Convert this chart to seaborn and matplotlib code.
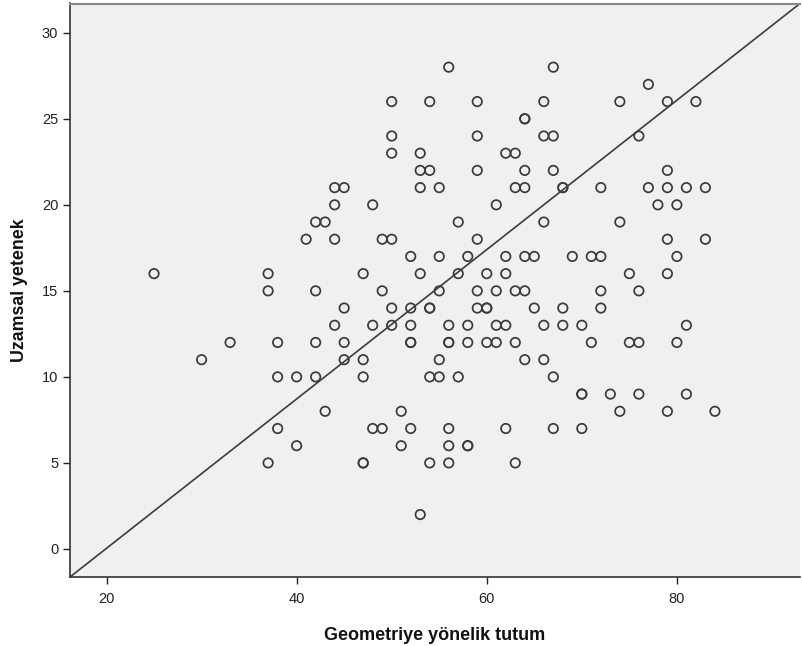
import matplotlib
matplotlib.use("Agg")
import matplotlib.pyplot as plt
import seaborn as sns
import pandas as pd

# Geometriye yönelik tutum (x) and Uzamsal yetenek (y), read row by row
tutum = [56, 67,
         77,
         50, 54, 59, 66, 74, 79, 82,
         64, 64,
         50, 59, 66, 67, 76,
         50, 53, 62, 63,
         53, 54, 59, 64, 67, 79,
         44, 45, 53, 55, 63, 64, 68, 68, 72, 77, 79, 81, 83,
         44, 48, 61, 78, 80,
         42, 43, 57, 66, 74,
         41, 44, 49, 50, 59, 79, 83,
         52, 55, 58, 62, 64, 65, 69, 71, 72, 80,
         25, 37, 47, 53, 57, 60, 62, 75, 79,
         37, 42, 49, 55, 59, 61, 63, 64, 72, 76,
         45, 50, 52, 54, 54, 59, 60, 60, 65, 68, 72,
         44, 48, 50, 52, 56, 58, 61, 62, 66, 68, 70, 81,
         33, 38, 42, 45, 52, 52, 56, 56, 58, 60, 61, 63, 71, 75, 76, 80,
         30, 45, 47, 55, 64, 66,
         38, 40, 42, 47, 54, 55, 57, 67,
         70, 70, 73, 76, 81,
         43, 51, 74, 79, 84,
         38, 48, 49, 52, 56, 62, 67, 70,
         40, 51, 56, 58, 58,
         37, 47, 47, 54, 56, 63,
         53]
yetenek = [28, 28,
           27,
           26, 26, 26, 26, 26, 26, 26,
           25, 25,
           24, 24, 24, 24, 24,
           23, 23, 23, 23,
           22, 22, 22, 22, 22, 22,
           21, 21, 21, 21, 21, 21, 21, 21, 21, 21, 21, 21, 21,
           20, 20, 20, 20, 20,
           19, 19, 19, 19, 19,
           18, 18, 18, 18, 18, 18, 18,
           17, 17, 17, 17, 17, 17, 17, 17, 17, 17,
           16, 16, 16, 16, 16, 16, 16, 16, 16,
           15, 15, 15, 15, 15, 15, 15, 15, 15, 15,
           14, 14, 14, 14, 14, 14, 14, 14, 14, 14, 14,
           13, 13, 13, 13, 13, 13, 13, 13, 13, 13, 13, 13,
           12, 12, 12, 12, 12, 12, 12, 12, 12, 12, 12, 12, 12, 12, 12, 12,
           11, 11, 11, 11, 11, 11,
           10, 10, 10, 10, 10, 10, 10, 10,
           9, 9, 9, 9, 9,
           8, 8, 8, 8, 8,
           7, 7, 7, 7, 7, 7, 7, 7,
           6, 6, 6, 6, 6,
           5, 5, 5, 5, 5, 5,
           2]

x_ticks = [20, 40, 60, 80]
y_ticks = [0, 5, 10, 15, 20, 25, 30]
x_label = "Geometriye yönelik tutum"
y_label = "Uzamsal yetenek"

df = pd.DataFrame({"x": tutum, "y": yetenek})

sns.set_style("white")
plt.rcParams["font.family"] = ["Liberation Sans", "DejaVu Sans"]

fig = plt.figure(figsize=(8.02, 6.46), dpi=100)
ax = fig.add_axes([70 / 802, 69 / 646, 730 / 802, 573.5 / 646])
ax.set_facecolor("#F0F0F0")

sns.scatterplot(data=df, x="x", y="y", ax=ax, marker="o", s=46,
                facecolor="none", edgecolor="#3a3a3a", linewidth=1.25, zorder=3)

ax.set_xlim(16.16, 92.95)
ax.set_ylim(-1.63, 31.7)
ax.plot([0, 1], [0, 1], transform=ax.transAxes, color="#3c3c3c", lw=1.2, zorder=2)

ax.set_xticks(x_ticks)
ax.set_yticks(y_ticks)
ax.tick_params(axis="both", direction="out", length=5, width=1, color="#222222",
               labelsize=10.5, labelcolor="#222222", bottom=True, left=True)
ax.tick_params(axis="x", pad=6)
ax.set_xlabel(x_label, fontsize=13, fontweight="bold", color="#111111", labelpad=15)
ax.set_ylabel(y_label, fontsize=12.8, fontweight="bold", color="#111111", labelpad=10)

for side in ["left", "bottom"]:
    ax.spines[side].set_color("#333333")
    ax.spines[side].set_linewidth(1.2)
ax.spines["top"].set_color("#888888")
ax.spines["top"].set_linewidth(1.5)
ax.spines["right"].set_visible(False)

fig.savefig("out.png", dpi=100)
